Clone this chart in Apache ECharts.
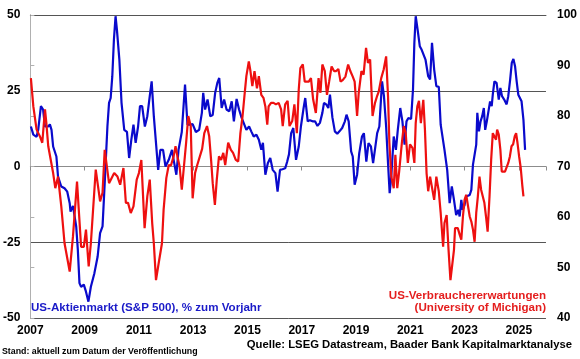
<!DOCTYPE html>
<html>
<head>
<meta charset="utf-8">
<script src="https://cdn.jsdelivr.net/npm/echarts@6/dist/echarts.min.js"></script>
<style>html,body{margin:0;padding:0;background:#fff}#c{width:580px;height:359px}</style>
</head>
<body>
<div id="c"></div>
<script>
// S&P 500, % yoy (left axis)
var spxYears = [2007.02,2007.11,2007.23,2007.29,2007.39,2007.47,2007.54,2007.66,2007.72,2007.78,2007.84,2007.96,
2008.02,2008.14,2008.26,2008.36,2008.45,2008.48,2008.57,2008.69,2008.75,2008.81,2008.87,2008.97,
2009.05,2009.14,2009.23,2009.36,2009.48,2009.57,2009.66,2009.74,2009.84,2009.90,2009.96,
2010.02,2010.08,2010.14,2010.19,2010.28,2010.36,2010.46,2010.56,2010.64,2010.72,2010.80,2010.88,2010.97,
2011.04,2011.12,2011.22,2011.31,2011.40,2011.47,2011.55,2011.62,2011.71,2011.79,2011.89,2011.98,
2012.10,2012.22,2012.28,2012.38,2012.46,2012.58,2012.70,2012.79,2012.89,2012.98,
2013.10,2013.22,2013.32,2013.37,2013.44,2013.53,2013.63,2013.72,2013.81,2013.89,2013.96,
2014.05,2014.14,2014.23,2014.33,2014.42,2014.50,2014.60,2014.69,2014.78,2014.86,2014.96,
2015.06,2015.14,2015.23,2015.33,2015.42,2015.51,2015.57,2015.66,2015.75,2015.84,2015.93,
2016.03,2016.11,2016.20,2016.29,2016.39,2016.46,2016.53,2016.61,2016.69,2016.79,2016.89,2016.97,
2017.06,2017.13,2017.22,2017.30,2017.40,2017.49,2017.58,2017.67,2017.76,2017.82,2017.91,2017.98,
2018.04,2018.13,2018.22,2018.31,2018.39,2018.49,2018.59,2018.65,2018.73,2018.82,2018.88,2018.95,
2019.04,2019.12,2019.22,2019.29,2019.38,2019.46,2019.55,2019.63,2019.69,2019.78,2019.86,2019.96,
2020.03,2020.11,2020.18,2020.24,2020.30,2020.39,2020.47,2020.54,2020.63,2020.71,2020.79,2020.86,2020.93,
2021.03,2021.10,2021.15,2021.20,2021.27,2021.35,2021.42,2021.49,2021.56,2021.66,2021.73,2021.80,2021.88,2021.96,
2022.05,2022.12,2022.19,2022.26,2022.36,2022.45,2022.53,2022.61,2022.69,2022.77,2022.82,2022.88,2022.93,
2023.00,2023.06,2023.13,2023.19,2023.25,2023.31,2023.37,2023.43,2023.47,2023.53,2023.59,2023.65,2023.71,2023.76,2023.82,2023.88,2023.94,
2024.00,2024.04,2024.10,2024.18,2024.26,2024.32,2024.38,2024.46,2024.55,2024.61,2024.68,2024.74,2024.80,2024.86,2024.92,2024.98,
2025.04,2025.10,2025.17,2025.23];
var spxYoY = [13.2,10.5,9.8,12.1,19.9,18.8,13.2,13.2,13.9,12.1,6.6,3.3,
-3.3,-6.6,-7.2,-8.3,-12.1,-14.9,-13.0,-19.8,-27.5,-38.5,-39.7,-39.0,
-41.3,-44.6,-39.7,-35.2,-29.7,-22.0,-19.8,-5.5,13.2,21.0,22.6,
29.8,41.9,49.6,45.2,35.3,21.0,12.1,11.4,2.8,8.8,13.8,7.8,13.2,
19.9,19.9,13.2,16.6,23.2,28.1,16.6,16.2,-1.1,5.5,5.5,0,
2.2,5.5,2.2,-2.7,5.5,11.4,27.0,13.8,13.8,14.0,
11.4,12.1,17.7,24.3,18.8,22.1,16.6,17.0,24.3,27.6,29.2,
19.3,22.1,18.8,18.2,21.5,14.9,22.3,18.8,16.2,14.4,12.1,
13.2,11.6,9.9,10.5,8.8,5.5,7.8,-2.7,1.1,2.8,-1.1,
-2.2,-8.3,-1.1,-0.9,-0.6,1.5,4.0,11.0,12.7,2.2,6.6,13.2,
18.8,22.6,14.9,15.3,14.9,14.9,13.4,14.4,17.7,21.0,20.4,19.3,
23.7,16.2,11.6,10.8,11.6,12.7,14.9,17.1,14.9,5.0,3.3,-6.0,
-2.7,4.4,9.9,11.0,1.6,7.7,6.6,1.1,1.6,11.0,13.2,28.1,
23.2,13.2,1.1,-8.8,-3.3,9.9,5.5,12.1,19.3,14.9,7.2,14.9,16.0,
15.7,25.4,40.8,49.6,45.2,39.7,38.5,38.2,35.3,29.8,28.7,40.8,32.0,26.5,
26.3,13.8,13.8,5.5,-1.1,-12.1,-6.6,-11.0,-16.0,-14.3,-16.5,-11.0,-14.3,
-12.7,-9.9,-9.4,-9.4,-7.7,0.6,0.8,7.2,17.7,11.6,14.9,16.6,19.3,12.1,14.9,15.4,21.5,
19.9,23.7,28.1,27.6,22.1,25.9,23.2,22.1,20.5,23.2,28.7,34.2,35.5,33.1,28.1,23.7,
24.3,21.5,15.4,5.5];

// University of Michigan consumer expectations (right axis)
var michYears = [2007.02,2007.11,2007.23,2007.35,2007.44,2007.54,2007.59,2007.66,2007.72,2007.84,2007.92,
2008.02,2008.14,2008.26,2008.45,2008.57,2008.72,2008.87,2008.97,
2009.05,2009.15,2009.23,2009.41,2009.48,2009.57,2009.66,2009.74,2009.90,
2010.09,2010.21,2010.31,2010.43,2010.52,2010.60,2010.70,2010.80,2010.92,
2011.00,2011.09,2011.21,2011.31,2011.40,2011.49,2011.55,2011.63,2011.73,2011.85,2011.91,
2012.01,2012.10,2012.18,2012.28,2012.35,2012.42,2012.50,2012.58,2012.64,2012.74,2012.82,2012.91,2012.98,
2013.07,2013.15,2013.22,2013.33,2013.41,2013.51,2013.59,2013.66,2013.72,2013.80,2013.87,2013.95,
2014.03,2014.11,2014.18,2014.29,2014.39,2014.47,2014.57,2014.66,2014.74,2014.82,2014.90,2014.96,
2015.05,2015.11,2015.18,2015.26,2015.35,2015.42,2015.51,2015.59,2015.66,2015.73,2015.78,2015.87,2015.96,
2016.05,2016.15,2016.24,2016.30,2016.39,2016.48,2016.55,2016.65,2016.73,2016.82,2016.89,2016.95,
2017.04,2017.11,2017.18,2017.26,2017.34,2017.42,2017.52,2017.62,2017.69,2017.76,2017.85,2017.93,
2018.01,2018.10,2018.19,2018.27,2018.35,2018.43,2018.51,2018.61,2018.71,2018.79,2018.88,2018.95,
2019.04,2019.10,2019.20,2019.28,2019.37,2019.44,2019.52,2019.61,2019.70,2019.78,2019.84,2019.93,
2020.02,2020.11,2020.18,2020.23,2020.30,2020.39,2020.45,2020.52,2020.59,2020.69,2020.76,2020.83,2020.91,2020.99,
2021.08,2021.15,2021.20,2021.26,2021.32,2021.39,2021.48,2021.54,2021.60,2021.66,2021.73,2021.80,2021.88,2021.96,
2022.05,2022.12,2022.21,2022.26,2022.34,2022.41,2022.48,2022.55,2022.61,2022.65,2022.75,2022.82,2022.88,2022.94,
2023.00,2023.06,2023.13,2023.19,2023.25,2023.31,2023.37,2023.43,2023.49,2023.55,2023.61,2023.67,2023.73,2023.79,2023.85,2023.92,2023.98,
2024.04,2024.10,2024.16,2024.20,2024.26,2024.32,2024.37,2024.43,2024.49,2024.55,2024.61,2024.67,2024.73,2024.79,2024.85,2024.90,2024.95,
2025.01,2025.07,2025.13,2025.17];
var michIndex = [87.5,81.9,77.3,76,74.7,81.3,78.6,74,73.7,68.7,65.7,
68,62.1,54.8,49.2,56.1,67,54.1,54.1,
57.5,50.2,54.8,69.4,69.2,63.1,64.8,73.3,66.7,
68.7,68,66.4,69.7,62.8,62.8,60.8,62.1,67.4,
68.7,71.3,57.8,64.1,67.4,58.8,54.8,47.5,50.9,54.8,61.4,
67.7,70.3,70.2,72,74,72,70,65.4,65.4,74.7,80,78,63.7,
68.7,70.3,70.5,73.5,76.6,78,76,71.3,66.7,62.4,67.4,72,
71.3,72.7,70.3,74.7,73.3,72.7,71.3,71,76.6,80,84.6,87.9,
90.8,88.9,85.9,88.9,85.5,87.9,84.2,83.6,81.9,78.3,81.9,82.6,82.6,
82.3,82.6,81.3,78,82.3,83,78,79,82.3,76.6,85.2,89.5,
90.2,86.8,87.1,86.8,87.5,83.3,80.6,87.5,84.6,90.2,88.9,84.2,
86.8,89.8,88.9,88.9,89.3,86.8,87.1,87.8,90.2,88.9,87.8,86.8,
80,84.6,88.9,88.2,93.5,90.5,91.2,80,82.6,84,84.9,87.5,
89.2,91.8,83.9,74.7,68,65.7,72.3,65.7,69,74.7,78,76.7,70.7,74.4,
73.7,70.7,78.6,81.9,83,78.6,83.2,77.3,68.7,65.1,68,68,63.4,68,
65.1,60.8,54.1,58.8,60.4,53.5,47.5,47.5,53.5,57.8,57.8,56.5,55.5,60.1,
63.4,64.4,64.1,60.1,59.1,57.5,55.1,60.8,64.1,68,65.4,65.4,62.8,60.1,57.1,64.1,71.3,
76.6,76.3,75.3,77.3,76.3,73.3,69,69.3,69,68.7,70.7,72,74,74.4,76,76.6,74.7,
72,69.7,66.1,64.1];

var startYear = 2007, endYear = 2026;
var yearTicks = [2007,2009,2011,2013,2015,2017,2019,2021,2023,2025];
var leftTicks = [-50,-25,0,25,50];
var rightTicks = [40,50,60,70,80,90,100];

function pairs(xs, ys){ return xs.map(function(x,i){ return [x - startYear, ys[i]]; }); }

var FONT = '"Liberation Sans", Arial, sans-serif';
var chart = echarts.init(document.getElementById('c'), null, {renderer:'canvas'});
chart.setOption({
  animation:false,
  backgroundColor:'#ffffff',
  grid:{left:28, right:30, top:15, bottom:41},
  xAxis:[{
    type:'value', min:0, max:endYear-startYear, interval:2,
    axisLine:{show:true, lineStyle:{color:'#8c8c8c', width:1}},
    axisTick:{show:true, length:4, lineStyle:{color:'#8c8c8c'}},
    splitLine:{show:false},
    axisLabel:{margin:7, color:'#000', fontFamily:FONT, fontWeight:'bold', fontSize:12,
      formatter:function(v){ var y=v+startYear; return yearTicks.indexOf(y)>=0 ? String(y) : ''; }}
  },{
    type:'value', position:'top', min:0, max:endYear-startYear,
    axisLine:{show:true, lineStyle:{color:'#555', width:1}},
    axisTick:{show:false}, axisLabel:{show:false}, splitLine:{show:false}
  }],
  yAxis:[{
    type:'value', min:leftTicks[0], max:leftTicks[leftTicks.length-1], interval:25,
    axisLine:{show:true, lineStyle:{color:'#8c8c8c'}},
    axisTick:{show:false},
    splitLine:{show:true, lineStyle:{color:'#555', width:1}},
    axisLabel:{margin:10, color:'#000', fontFamily:FONT, fontWeight:'bold', fontSize:12}
  },{
    type:'value', min:rightTicks[0], max:rightTicks[rightTicks.length-1], interval:10, position:'right',
    axisLine:{show:true, lineStyle:{color:'#b0b0b0'}},
    axisTick:{show:true, length:4, lineStyle:{color:'#b0b0b0'}},
    splitLine:{show:false},
    axisLabel:{margin:11, color:'#000', fontFamily:FONT, fontWeight:'bold', fontSize:12}
  }],
  series:[{
    type:'line', name:'S&P 500', xAxisIndex:0, yAxisIndex:0, data:pairs(spxYears, spxYoY),
    showSymbol:false, lineStyle:{color:'#0a0acc', width:2.2}, z:3
  },{
    type:'line', name:'Michigan', xAxisIndex:0, yAxisIndex:1, data:pairs(michYears, michIndex),
    showSymbol:false, lineStyle:{color:'#ee1010', width:2.2}, z:4
  }],
  graphic:[
    {type:'text', left:31, top:302, style:{text:'US-Aktienmarkt (S&P 500), % zum Vorjahr', font:'bold 11.6px '+FONT, fill:'#1a1ac8'}},
    {type:'text', right:34, top:290, style:{text:'US-Verbrauchererwartungen', font:'bold 11.6px '+FONT, fill:'#e41e1e', textAlign:'right'}},
    {type:'text', right:34, top:302, style:{text:'(University of Michigan)', font:'bold 11.6px '+FONT, fill:'#e41e1e', textAlign:'right'}},
    {type:'text', left:2, top:347, style:{text:'Stand: aktuell zum Datum der Veröffentlichung', font:'bold 8.8px '+FONT, fill:'#000'}},
    {type:'text', right:8, top:339, style:{text:'Quelle: LSEG Datastream, Baader Bank Kapitalmarktanalyse', font:'bold 11.3px '+FONT, fill:'#000', textAlign:'right'}}
  ]
});
</script>
</body>
</html>
